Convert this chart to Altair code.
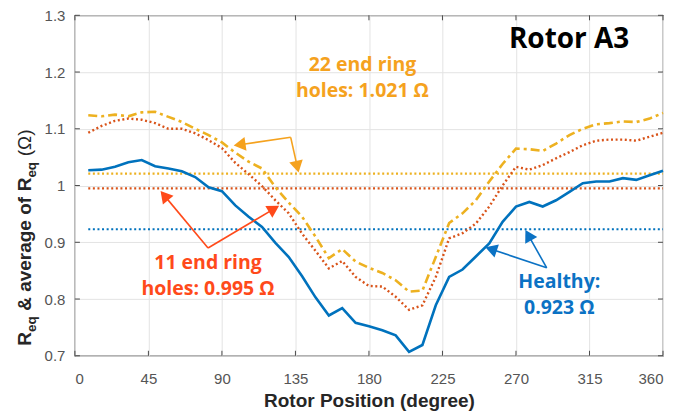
import math
import altair as alt
import pandas as pd

# ---------------- data ----------------
step = 360 / 44
positions = [round(step * k, 3) for k in range(1, 45)]

healthy = [1.027, 1.028, 1.033, 1.041, 1.045, 1.034, 1.030, 1.025, 1.015, 0.997,
           0.990, 0.965, 0.945, 0.927, 0.899, 0.874, 0.840, 0.803, 0.771, 0.784,
           0.758, 0.752, 0.745, 0.736, 0.707, 0.719, 0.789, 0.839, 0.852, 0.875,
           0.898, 0.936, 0.963, 0.971, 0.963, 0.974, 0.989, 1.004, 1.007, 1.007,
           1.013, 1.010, 1.018, 1.026]
holes22 = [1.124, 1.122, 1.125, 1.122, 1.129, 1.130, 1.121, 1.112, 1.100, 1.089,
           1.076, 1.058, 1.042, 1.030, 0.997, 0.970, 0.945, 0.910, 0.872, 0.888,
           0.866, 0.855, 0.846, 0.833, 0.813, 0.815, 0.874, 0.934, 0.951, 0.974,
           1.007, 1.038, 1.065, 1.064, 1.061, 1.074, 1.089, 1.100, 1.108, 1.110,
           1.113, 1.112, 1.118, 1.128]
holes11 = [1.093, 1.105, 1.114, 1.118, 1.116, 1.110, 1.100, 1.100, 1.092, 1.080,
           1.066, 1.040, 1.020, 0.999, 0.974, 0.951, 0.915, 0.885, 0.854, 0.867,
           0.839, 0.823, 0.822, 0.804, 0.781, 0.789, 0.839, 0.907, 0.916, 0.933,
           0.963, 1.000, 1.033, 1.028, 1.036, 1.048, 1.059, 1.071, 1.079, 1.081,
           1.081, 1.079, 1.086, 1.093]

averages = {"healthy": 0.923, "h11": 0.995, "h22": 1.021}

x_ticks = [0, 45, 90, 135, 180, 225, 270, 315, 360]
y_ticks = [0.7, 0.8, 0.9, 1.0, 1.1, 1.2, 1.3]

# annotation texts (x, y in data units)
texts = [
    {"x": 176.0, "y": 1.212, "t": "22 end ring", "c": "#F5A21E"},
    {"x": 176.0, "y": 1.167, "t": "holes: 1.021 \u03a9", "c": "#F5A21E"},
    {"x": 81.5, "y": 0.863, "t": "11 end ring", "c": "#FF4A1A"},
    {"x": 81.5, "y": 0.818, "t": "holes: 0.995 \u03a9", "c": "#FF4A1A"},
    {"x": 296.5, "y": 0.830, "t": "Healthy:", "c": "#0B72C4"},
    {"x": 296.5, "y": 0.785, "t": "0.923 \u03a9", "c": "#0B72C4"},
]
# arrows: vertex -> tip
arrows = [
    {"vx": 132.1, "vy": 1.085, "tx": 98.7, "ty": 1.071, "c": "#F5A21E"},
    {"vx": 132.1, "vy": 1.085, "tx": 136.6, "ty": 1.027, "c": "#F5A21E"},
    {"vx": 81.5, "vy": 0.890, "tx": 53.4, "ty": 0.987, "c": "#FF4A1A"},
    {"vx": 81.5, "vy": 0.890, "tx": 123.7, "ty": 0.962, "c": "#FF4A1A"},
    {"vx": 288.8, "vy": 0.855, "tx": 252.7, "ty": 0.890, "c": "#0B72C4"},
    {"vx": 288.8, "vy": 0.855, "tx": 276.5, "ty": 0.918, "c": "#0B72C4"},
]

# ---------------- layout ----------------
W, H = 589, 341
XMIN, XMAX, YMIN, YMAX = 0, 360, 0.7, 1.3
pxx = W / (XMAX - XMIN)
pxy = H / (YMAX - YMIN)

BLUE, RED, ORANGE = "#0072BD", "#D95319", "#EDB120"
FRAME = "#4a4a4a"

xs = alt.Scale(domain=[XMIN, XMAX], nice=False)
ys = alt.Scale(domain=[YMIN, YMAX], nice=False)

df = pd.DataFrame({"x": positions, "healthy": healthy, "h11": holes11, "h22": holes22})

xaxis = alt.Axis(values=x_ticks, title="Rotor Position (degree)", grid=True,
                 gridColor="#e3e3e3", domain=False, ticks=False,
                 labelFont="Liberation Sans", labelFontSize=15, labelColor="#555555",
                 labelPadding=16, titleFont="Liberation Sans", titleFontSize=19,
                 titleFontWeight="bold", titleColor="#262626", titlePadding=5)
yaxis = alt.Axis(values=y_ticks, title=None, grid=True, gridColor="#e3e3e3",
                 domain=False, ticks=False, format=".1~f",
                 labelFont="Liberation Sans", labelFontSize=15, labelColor="#555555",
                 labelPadding=10)

base = alt.Chart(df)

blue_line = base.mark_line(color=BLUE, strokeWidth=2.6).encode(
    x=alt.X("x:Q", scale=xs, axis=xaxis), y=alt.Y("healthy:Q", scale=ys, axis=yaxis))
red_line = base.mark_line(color=RED, strokeWidth=2.4, strokeDash=[2, 2.6]).encode(
    x=alt.X("x:Q", scale=xs), y=alt.Y("h11:Q", scale=ys))
org_line = base.mark_line(color=ORANGE, strokeWidth=2.6, strokeDash=[9, 4, 3, 4]).encode(
    x=alt.X("x:Q", scale=xs), y=alt.Y("h22:Q", scale=ys))

avg_df = pd.DataFrame([
    {"x": positions[0], "x2": positions[-1], "y": averages["healthy"], "c": BLUE},
    {"x": positions[0], "x2": positions[-1], "y": averages["h11"], "c": RED},
    {"x": positions[0], "x2": positions[-1], "y": averages["h22"], "c": ORANGE},
])
avg_rules = alt.Chart(avg_df).mark_rule(strokeWidth=2.2, strokeDash=[2, 2.6]).encode(
    x=alt.X("x:Q", scale=xs), x2="x2:Q", y=alt.Y("y:Q", scale=ys),
    color=alt.Color("c:N", scale=None))

# inward ticks (MATLAB style)
xt = pd.DataFrame({"v": x_ticks})
yt = pd.DataFrame({"v": y_ticks})
tick_b = alt.Chart(xt).mark_rule(color=FRAME, strokeWidth=1).encode(
    x=alt.X("v:Q", scale=xs), y=alt.value(H), y2=alt.value(H - 5))
tick_t = alt.Chart(xt).mark_rule(color=FRAME, strokeWidth=1).encode(
    x=alt.X("v:Q", scale=xs), y=alt.value(0), y2=alt.value(5))
tick_l = alt.Chart(yt).mark_rule(color=FRAME, strokeWidth=1).encode(
    y=alt.Y("v:Q", scale=ys), x=alt.value(0), x2=alt.value(5))
tick_r = alt.Chart(yt).mark_rule(color=FRAME, strokeWidth=1).encode(
    y=alt.Y("v:Q", scale=ys), x=alt.value(W), x2=alt.value(W - 5))

# arrows
seg_rows, head_rows = [], []
for a in arrows:
    dxp = (a["tx"] - a["vx"]) * pxx
    dyp = -(a["ty"] - a["vy"]) * pxy
    L = math.hypot(dxp, dyp)
    ux, uy = dxp / L, dyp / L
    back = 5.5
    hx = a["tx"] - ux * back / pxx
    hy = a["ty"] + uy * back / pxy
    ang = math.degrees(math.atan2(ux, -uy)) % 360
    seg_rows.append({"x": a["vx"], "y": a["vy"], "x2": hx, "y2": hy, "c": a["c"]})
    head_rows.append({"x": hx, "y": hy, "a": ang, "c": a["c"]})
seg = alt.Chart(pd.DataFrame(seg_rows)).mark_rule(strokeWidth=1.6).encode(
    x=alt.X("x:Q", scale=xs), y=alt.Y("y:Q", scale=ys), x2="x2:Q", y2="y2:Q",
    color=alt.Color("c:N", scale=None))
heads = alt.Chart(pd.DataFrame(head_rows)).mark_point(
    shape="triangle", filled=True, size=190, opacity=1).encode(
    x=alt.X("x:Q", scale=xs), y=alt.Y("y:Q", scale=ys),
    angle=alt.Angle("a:Q", scale=None), color=alt.Color("c:N", scale=None))

labels = alt.Chart(pd.DataFrame(texts)).mark_text(
    font="Open Sans", fontSize=19.5, fontWeight="bold", align="center", baseline="middle").encode(
    x=alt.X("x:Q", scale=xs), y=alt.Y("y:Q", scale=ys), text="t:N",
    color=alt.Color("c:N", scale=None))

rotor = alt.Chart(pd.DataFrame({"x": [302.5], "y": [1.256], "t": ["Rotor A3"]})).mark_text(
    font="Open Sans", fontSize=28, fontWeight="bold", align="center", baseline="middle",
    color="#000000").encode(x=alt.X("x:Q", scale=xs), y=alt.Y("y:Q", scale=ys), text="t:N")

# y-axis title with subscripts, drawn rotated; gaps are explicit offsets
NB = "\u00a0"
GAP = 5.6
ytitle_parts = [("R", 19, 0, "bold", 0), ("eq", 13.5, 5, "bold", 0),
                ("&" + NB + "average" + NB + "of", 19, 0, "bold", GAP),
                ("R", 19, 0, "bold", GAP), ("eq", 13.5, 5, "bold", 0),
                ("(\u03a9)", 19, 0, "normal", GAP)]
em = {"R": 0.722, "e": 0.556, "q": 0.611, NB: 0.278, "&": 0.722, "a": 0.556, "v": 0.556,
      "r": 0.389, "g": 0.611, "o": 0.611, "f": 0.333, "(": 0.333, ")": 0.333, "\u03a9": 0.768}
ybase = H - 10
xbase = -44
title_layers = []
for txt, fs, sub, fw, gap in ytitle_parts:
    ybase -= gap
    title_layers.append(
        alt.Chart(pd.DataFrame({"t": [txt]})).mark_text(
            font="Liberation Sans", fontSize=fs, fontWeight=fw, angle=270, align="left",
            baseline="alphabetic", color="#262626").encode(
            x=alt.value(xbase + sub), y=alt.value(ybase), text="t:N"))
    ybase -= sum(em.get(ch, 0.55) for ch in txt) * fs

chart = alt.layer(
    avg_rules, org_line, red_line, blue_line, seg, heads, labels, rotor,
    tick_b, tick_t, tick_l, tick_r, *title_layers
).properties(
    width=W, height=H,
    padding={"left": 67, "top": 7, "right": 4, "bottom": 58},
    autosize=alt.AutoSizeParams(type="none"),
).configure_view(stroke=FRAME, strokeWidth=1.2)

chart.save("out.html", embed_options={"renderer": "svg", "actions": False})
